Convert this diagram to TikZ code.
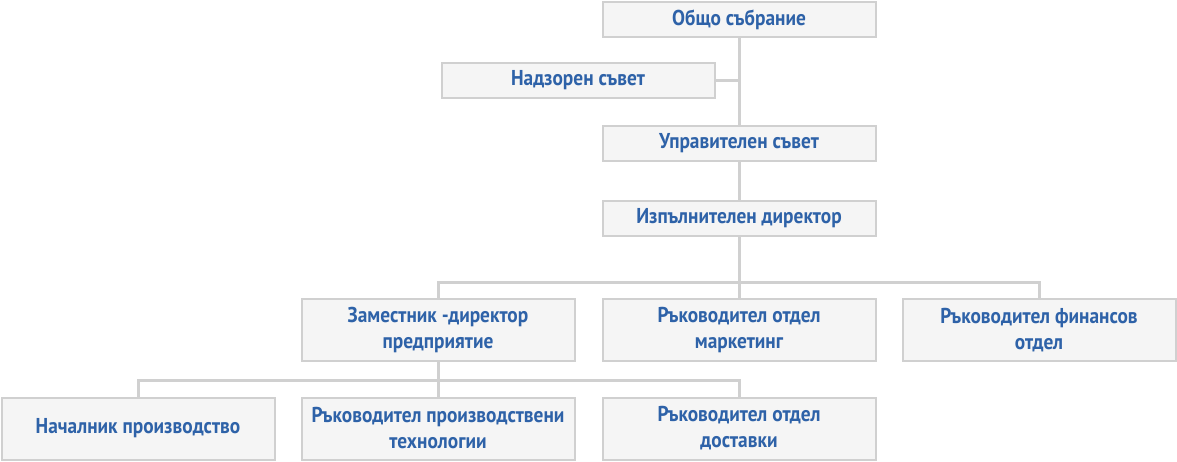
\documentclass[tikz,border=0pt]{standalone}
\usepackage{fontspec}
\setmainfont{PT Sans}[FakeStretch=0.9]
\definecolor{boxfill}{HTML}{F5F5F5}
\definecolor{boxline}{HTML}{D0D0D0}
\definecolor{txt}{HTML}{2E62A8}
\begin{document}
\begin{tikzpicture}[x=1pt,y=-1pt,
  unit/.style={draw=boxline,line width=2pt,fill=boxfill,text=txt,
    font=\fontsize{21.5}{26}\selectfont\bfseries,align=center,
    minimum width=273pt,inner sep=0pt,anchor=center},
  one/.style={unit,minimum height=35pt},
  two/.style={unit,minimum height=62pt},
  link/.style={draw=boxline,line width=3pt}]
\useasboundingbox (0,0) rectangle (1177,461);
\node[one] (gs) at (739,19.5) {Общо събрание};
\node[one] (ns) at (578,80) {Надзорен съвет};
\node[one] (us) at (739,143) {Управителен съвет};
\node[one] (id) at (739,218) {Изпълнителен директор};
\node[two] (zd) at (438,330) {Заместник -директор\\предприятие};
\node[two] (rm) at (739,330) {Ръководител отдел\\маркетинг};
\node[two] (rf) at (1039,330) {Ръководител финансов\\отдел};
\node[two] (np) at (138,428.5) {Началник производство};
\node[two] (rt) at (438,428.5) {Ръководител производствени\\технологии};
\node[two] (rd) at (739,428.5) {Ръководител отдел\\доставки};
\coordinate (j1) at (739,80);
\coordinate (b1) at (739,282);
\coordinate (b2) at (438,380);
\draw[link] (gs.south) -- (us.north);
\draw[link] (ns.east) -- (j1);
\draw[link] (us.south) -- (id.north);
\draw[link] (id.south) -- (b1);
\draw[link] (zd.north) |- (b1) -| (rf.north);
\draw[link] (b1) -- (rm.north);
\draw[link] (zd.south) -- (rt.north);
\draw[link] (np.north) |- (b2) -| (rd.north);
\end{tikzpicture}
\end{document}
